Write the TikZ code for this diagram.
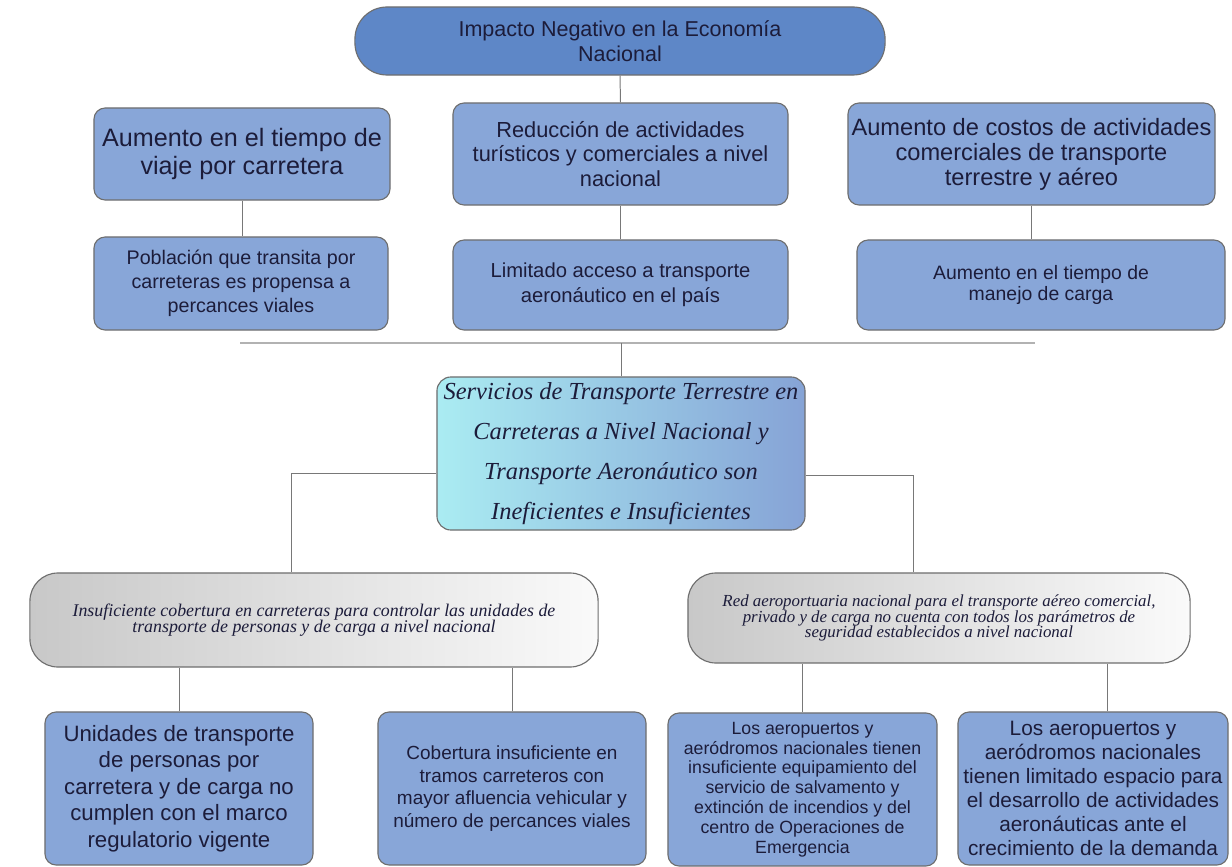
\documentclass[tikz,border=0pt]{standalone}
\usepackage{fontspec}
\newfontfamily\boxfont{Liberation Sans}
\newfontfamily\curfont{Liberation Serif}
\newcommand{\boxtxt}[2]{\boxfont\fontsize{#1}{#2}\selectfont}
\newcommand{\curtxt}[2]{\curfont\itshape\fontsize{#1}{#2}\selectfont}
\definecolor{topblue}{RGB}{94,135,199}
\definecolor{boxblue}{RGB}{136,166,216}
\definecolor{edgegray}{RGB}{110,110,110}
\definecolor{cyanlight}{RGB}{170,236,242}
\definecolor{bluemid}{RGB}{134,163,214}
\definecolor{graydark}{RGB}{200,200,200}
\definecolor{grayfade}{RGB}{250,250,250}
\definecolor{inkblue}{RGB}{28,28,58}
\definecolor{linkgray}{RGB}{120,120,120}
\tikzset{
  toppill/.style={draw=edgegray, fill=topblue, line width=0.8pt, rounded corners=0.8cm,
    align=center, text=inkblue, font={\boxtxt{15.3}{18}}},
  effectbox/.style={draw=edgegray, fill=boxblue, line width=0.8pt, rounded corners=0.28cm,
    align=center, text=inkblue, inner sep=2pt},
  rootbox/.style={draw=edgegray, left color=cyanlight, right color=bluemid, line width=0.8pt,
    rounded corners=0.35cm, align=center, text=inkblue, inner sep=0pt, font={\curtxt{17.4}{28.4}}},
  causebox/.style={draw=edgegray, left color=graydark, right color=grayfade, line width=0.8pt,
    rounded corners=0.7cm, align=center, text=inkblue},
  link/.style={draw=linkgray, line width=0.7pt}
}
\begin{document}
\begin{tikzpicture}[x=0.025cm,y=-0.025cm]
\useasboundingbox (0,0) rectangle (1232,867);
% efectos
\node[toppill, minimum width=13.25cm, minimum height=1.7cm] (impacto) at (620,41)
  {Impacto Negativo en la Economía\\Nacional};
\node[effectbox, minimum width=7.4cm, minimum height=2.3cm, font={\boxtxt{17.9}{19.5}}] (viaje) at (242,154)
  {Aumento en el tiempo de\\viaje por carretera};
\node[effectbox, minimum width=8.375cm, minimum height=2.55cm, font={\boxtxt{15.5}{17.5}}] (turismo) at (620.5,154)
  {Reducción de actividades\\turísticos y comerciales a nivel\\nacional};
\node[effectbox, minimum width=9.175cm, minimum height=2.55cm, font={\boxtxt{16.8}{17.8}}] (costos) at (1031.5,154)
  {Aumento de costos de actividades\\comerciales de transporte\\terrestre y aéreo};
\node[effectbox, minimum width=7.35cm, minimum height=2.325cm, font={\boxtxt{14}{17}}] (poblacion) at (241,283.5)
  {Población que transita por\\carreteras es propensa a\\percances viales};
\node[effectbox, minimum width=8.375cm, minimum height=2.25cm, font={\boxtxt{14.4}{17.5}}] (acceso) at (620.5,285)
  {Limitado acceso a transporte\\aeronáutico en el país};
\node[effectbox, minimum width=9.2cm, minimum height=2.25cm, font={\boxtxt{13.8}{15.5}}] (manejo) at (1041,285)
  {Aumento en el tiempo de\\manejo de carga};
\draw[link] (impacto.south) -- (turismo.north);
\draw[link] (viaje.south) -- (viaje.south |- poblacion.north);
\draw[link] (turismo.south) -- (acceso.north);
\draw[link] (costos.south) -- (costos.south |- manejo.north);
% problema central
\coordinate (barL) at (240,343);
\coordinate (barR) at (1035,343);
\draw[draw=gray!60, line width=1.3pt] (barL) -- (barR);
\node[rootbox, minimum width=9.2cm, minimum height=3.825cm] (central) at (621,453.5)
  {Servicios de Transporte Terrestre en\\Carreteras a Nivel Nacional y\\Transporte Aeronáutico son\\Ineficientes e Insuficientes};
\draw[link] (central.north) -- (central.north |- barL);
% causas
\node[causebox, minimum width=14.2cm, minimum height=2.35cm, font={\curtxt{12.7}{11.8}}] (carreteras) at (314,620)
  {Insuficiente cobertura en carreteras para controlar las unidades de\\transporte de personas y de carga a nivel nacional};
\node[causebox, minimum width=12.55cm, minimum height=2.25cm, font={\curtxt{12}{11.3}}] (aeropuertos) at (939,618)
  {Red aeroportuaria nacional para el transporte aéreo comercial,\\privado y de carga no cuenta con todos los parámetros de\\seguridad establecidos a nivel nacional};
\draw[link] ([yshift=-0.5cm]central.west) -| ([xshift=-0.575cm]carreteras.north);
\draw[link] ([yshift=-0.55cm]central.east) -| ([xshift=-0.65cm]aeropuertos.north);
\node[effectbox, minimum width=6.7cm, minimum height=3.825cm, font={\boxtxt{15.8}{18.8}}] (unidades) at (179,788.5)
  {Unidades de transporte\\de personas por\\carretera y de carga no\\cumplen con el marco\\regulatorio vigente};
\node[effectbox, minimum width=6.7cm, minimum height=3.825cm, font={\boxtxt{13.5}{16}}] (tramos) at (512,788.5)
  {Cobertura insuficiente en\\tramos carreteros con\\mayor afluencia vehicular y\\número de percances viales};
\node[effectbox, minimum width=6.725cm, minimum height=3.825cm, font={\boxtxt{12.6}{14.1}}] (salvamento) at (802.5,789.5)
  {Los aeropuertos y\\aeródromos nacionales tienen\\insuficiente equipamiento del\\servicio de salvamento y\\extinción de incendios y del\\centro de Operaciones de\\Emergencia};
\node[effectbox, minimum width=6.75cm, minimum height=3.825cm, font={\boxtxt{14.8}{17}}] (espacio) at (1093,788.5)
  {Los aeropuertos y\\aeródromos nacionales\\tienen limitado espacio para\\el desarrollo de actividades\\aeronáuticas ante el\\crecimiento de la demanda};
\draw[link] (unidades.north) -- (unidades.north |- carreteras.south);
\draw[link] (tramos.north) -- (tramos.north |- carreteras.south);
\draw[link] (salvamento.north) -- (salvamento.north |- aeropuertos.south);
\draw[link] ([xshift=0.35cm]espacio.north) -- ([xshift=0.35cm]espacio.north |- aeropuertos.south);
\end{tikzpicture}
\end{document}
